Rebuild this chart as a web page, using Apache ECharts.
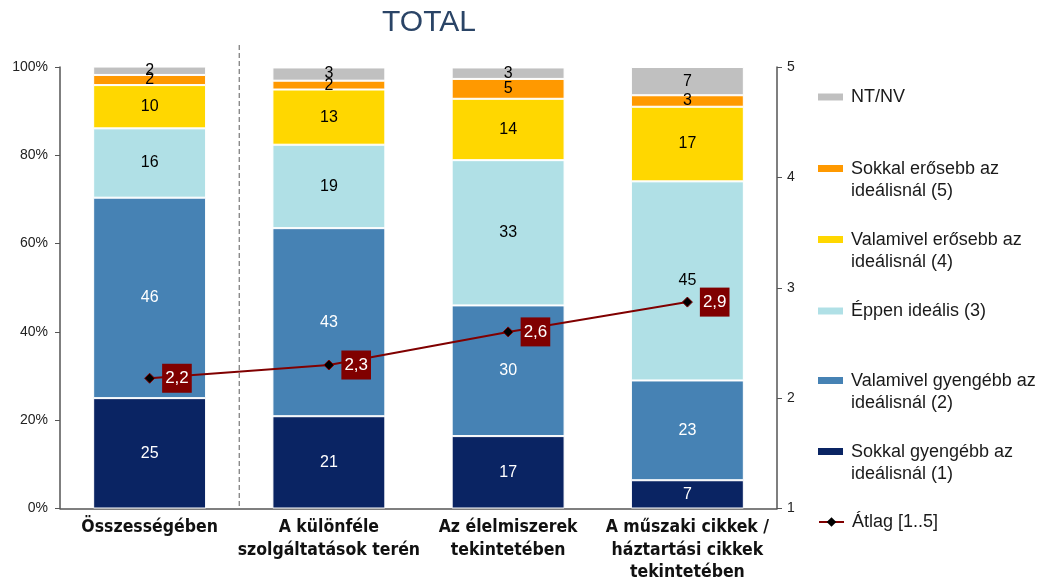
<!DOCTYPE html>
<html><head><meta charset="utf-8">
<script src="https://cdn.jsdelivr.net/npm/echarts@6/dist/echarts.min.js"></script>
<style>html,body{margin:0;padding:0;background:#fff}#c{width:1048px;height:584px}</style>
</head><body><div id="c"></div>
<script>
const categories = ['Összességében', 'A különféle\nszolgáltatások terén', 'Az élelmiszerek\ntekintetében', 'A műszaki cikkek /\nháztartási cikkek\ntekintetében'];

// segment sizes (%) and printed labels
const sokkalGyengebb = [25.0, 20.9, 16.4, 6.4];
const sokkalGyengebbLbl = [25, 21, 17, 7];
const valamivelGyengebb = [45.4, 42.6, 29.6, 22.6];
const valamivelGyengebbLbl = [46, 43, 30, 23];
const eppenIdealis = [15.7, 18.9, 32.9, 45.1];
const eppenIdealisLbl = [16, 19, 33, 45];
const valamivelErosebb = [9.8, 12.5, 13.9, 16.9];
const valamivelErosebbLbl = [10, 13, 14, 17];
const sokkalErosebb = [2.3, 2.0, 4.5, 2.6];
const sokkalErosebbLbl = [2, 2, 5, 3];
const ntnv = [1.9, 3.0, 2.6, 6.4];
const ntnvLbl = [2, 3, 3, 7];
const atlag = [2.18, 2.3, 2.6, 2.87];

const names = {
  ntnv: 'NT/NV',
  se: 'Sokkal erősebb az\nideálisnál (5)',
  ve: 'Valamivel erősebb az\nideálisnál (4)',
  ei: 'Éppen ideális (3)',
  vg: 'Valamivel gyengébb az\nideálisnál (2)',
  sg: 'Sokkal gyengébb az\nideálisnál (1)',
  avg: 'Átlag [1..5]'
};

const FONT = "'Liberation Sans', Arial, sans-serif";
const NARROW = "'Liberation Sans Narrow', 'Arial Narrow', 'DejaVu Sans Condensed', sans-serif";

function barSeries(name, data, labels, color, labelColor) {
  return {
    name, type: 'bar', stack: 'total', data, barWidth: '63%',
    itemStyle: { color, borderColor: '#ffffff', borderWidth: 1 },
    label: { show: true, position: 'inside', color: labelColor, fontSize: 16, fontFamily: FONT,
      formatter: p => String(labels[p.dataIndex]) },
    emphasis: { disabled: true }
  };
}

const twoLineIcon = 'path://M0,0L25,0L25,7L0,7Z M0,30L25,30';
function legendItem(name, top, twoLine, isLine) {
  return {
    data: [name], orient: 'vertical', left: 818, top, padding: 0,
    itemWidth: 25, itemHeight: isLine ? 12 : (twoLine ? 30 : 7),
    icon: isLine ? undefined : (twoLine ? twoLineIcon : 'rect'),
    itemStyle: isLine ? undefined : { borderWidth: 0 },
    selectedMode: false,
    textStyle: { fontSize: 18, fontFamily: FONT, color: '#1a1a1a', lineHeight: 22, padding: [0, 0, 0, 3] }
  };
}

const chart = echarts.init(document.getElementById('c'));
const option = {
  animation: false,
  title: { text: 'TOTAL', left: 424, top: 3, textAlign: 'center',
    textStyle: { fontSize: 30, fontWeight: 'normal', color: '#2a4466', fontFamily: FONT } },
  grid: { left: 60, right: 271, top: 67, bottom: 74, containLabel: false },
  legend: [
    legendItem(names.ntnv, 86, false),
    legendItem(names.se, 158, true),
    legendItem(names.ve, 229, true),
    legendItem(names.ei, 300, false),
    legendItem(names.vg, 370, true),
    legendItem(names.sg, 441, true),
    legendItem(names.avg, 511, false, true)
  ],
  xAxis: {
    type: 'category', data: categories,
    axisLine: { lineStyle: { color: '#555', width: 1.5 } },
    axisTick: { show: false },
    axisLabel: { fontFamily: NARROW, fontWeight: 'bold', fontSize: 17.5, color: '#111', lineHeight: 22.5, margin: 8, interval: 0 }
  },
  yAxis: [
    { type: 'value', min: 0, max: 100, interval: 20,
      axisLine: { show: true, lineStyle: { color: '#555', width: 1.5 } },
      axisTick: { show: true, length: 5, lineStyle: { color: '#555' } },
      splitLine: { show: false },
      axisLabel: { formatter: v => v + '%', fontSize: 14, fontFamily: FONT, color: '#222', margin: 12 } },
    { type: 'value', min: 1, max: 5, interval: 1, position: 'right',
      axisLine: { show: true, lineStyle: { color: '#555', width: 1.5 } },
      axisTick: { show: true, length: 5, lineStyle: { color: '#555' } },
      splitLine: { show: false },
      axisLabel: { fontSize: 14, fontFamily: FONT, color: '#222', margin: 10 } }
  ],
  series: [
    barSeries(names.sg, sokkalGyengebb, sokkalGyengebbLbl, '#0a2463', '#ffffff'),
    barSeries(names.vg, valamivelGyengebb, valamivelGyengebbLbl, '#4682b4', '#ffffff'),
    barSeries(names.ei, eppenIdealis, eppenIdealisLbl, '#b0e0e6', '#000000'),
    barSeries(names.ve, valamivelErosebb, valamivelErosebbLbl, '#ffd700', '#000000'),
    barSeries(names.se, sokkalErosebb, sokkalErosebbLbl, '#ff9900', '#000000'),
    barSeries(names.ntnv, ntnv, ntnvLbl, '#c0c0c0', '#000000'),
    {
      name: names.avg, type: 'line', yAxisIndex: 1, data: atlag, z: 10,
      symbol: 'diamond', symbolSize: 10,
      lineStyle: { color: '#800000', width: 2 },
      itemStyle: { color: '#000000', borderColor: '#800000', borderWidth: 1 },
      label: { show: true, position: 'right', distance: 7,
        formatter: p => p.value.toFixed(1).replace('.', ','),
        backgroundColor: '#800000', color: '#ffffff', fontSize: 17, fontFamily: FONT,
        padding: [6, 3, 6, 3] },
      emphasis: { disabled: true }
    }
  ]
};
chart.setOption(option);

const xa = chart.convertToPixel({ xAxisIndex: 0 }, categories[0]);
const xb = chart.convertToPixel({ xAxisIndex: 0 }, categories[1]);
const sepX = (xa + xb) / 2;
const yBottom = chart.convertToPixel({ yAxisIndex: 0 }, 0);
const yTop = chart.convertToPixel({ yAxisIndex: 0 }, 100) - 22;
chart.setOption({
  graphic: [{
    type: 'line', z: 5,
    shape: { x1: sepX, y1: yTop, x2: sepX, y2: yBottom },
    style: { stroke: '#777', lineWidth: 1.2, lineDash: [5, 3] }
  }]
});
</script>
</body></html>
